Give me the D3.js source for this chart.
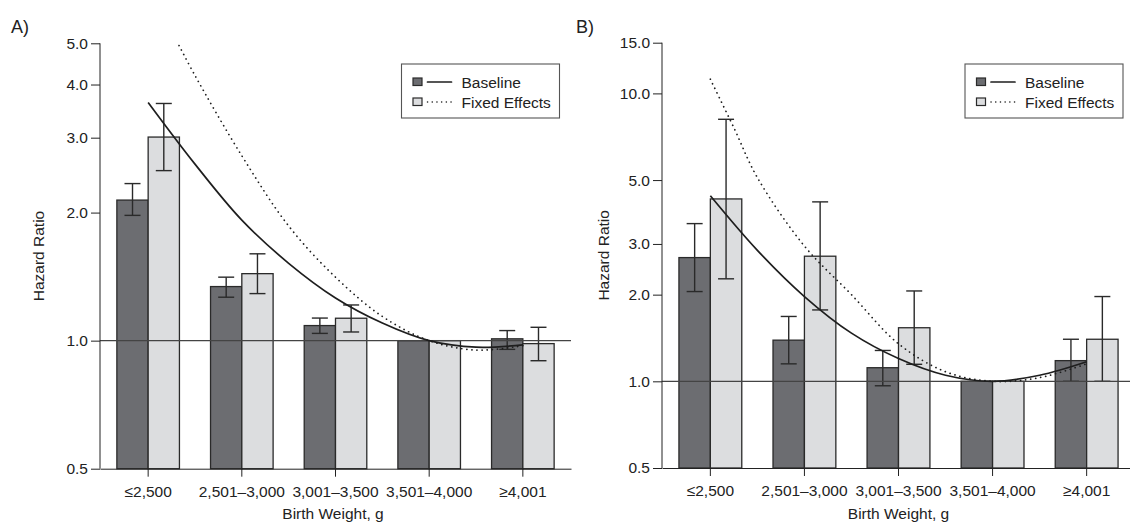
<!DOCTYPE html>
<html>
<head>
<meta charset="utf-8">
<script src="https://cdn.jsdelivr.net/npm/d3@7"></script>
<style>
	body { margin: 0; background: #fff; }
	svg { display: block; font-family: "Liberation Sans", Arial, sans-serif; }
	.axis path, .axis line { stroke: #222; }
	.axis text { fill: #222; font-size: 15.5px; }
</style>
</head>
<body>
<svg id="chart" width="1130" height="523"></svg>
<script>
// categories and series
const categories = ['≤2,500', '2,501–3,000', '3,001–3,500', '3,501–4,000', '≥4,001'];
const seriesNames = ['Baseline', 'Fixed Effects'];

// panel A values (hazard ratios)
const aBaseline = [2.14, 1.34, 1.085, 1.0, 1.01];
const aBaselineLow = [1.97, 1.265, 1.04, null, 0.954];
const aBaselineHigh = [2.34, 1.41, 1.13, null, 1.056];
const aFixed = [3.01, 1.437, 1.129, 1.0, 0.984];
const aFixedLow = [2.51, 1.29, 1.048, null, 0.897];
const aFixedHigh = [3.61, 1.60, 1.213, null, 1.075];
const aTicks = [0.5, 1.0, 2.0, 3.0, 4.0, 5.0];
// fitted curves: [category position, hazard ratio]
const aCurveBaseline = [[0, 3.63], [0.5, 2.6], [1, 1.92], [1.5, 1.52], [2, 1.26], [2.5, 1.1], [3, 1.0], [3.5, 0.965], [4, 0.977]];
const aCurveFixed = [[0.33, 4.94], [0.5, 4.2], [1, 2.72], [1.5, 1.86], [2, 1.41], [2.5, 1.14], [3, 1.0], [3.5, 0.95], [4, 0.973]];

// panel B values
const bBaseline = [2.69, 1.39, 1.115, 1.0, 1.18];
const bBaselineLow = [2.05, 1.15, 0.965, null, 1.0];
const bBaselineHigh = [3.53, 1.68, 1.28, null, 1.40];
const bFixed = [4.30, 2.72, 1.535, 1.0, 1.40];
const bFixedLow = [2.27, 1.77, 1.146, null, 1.0];
const bFixedHigh = [8.13, 4.20, 2.06, null, 1.97];
const bTicks = [0.5, 1.0, 2.0, 3.0, 5.0, 10.0, 15.0];
const bCurveBaseline = [[0, 4.41], [0.5, 2.85], [1, 1.97], [1.5, 1.47], [2, 1.2], [2.5, 1.05], [3, 1.0], [3.5, 1.05], [4, 1.17]];
const bCurveFixed = [[0, 11.2], [0.25, 7.6], [0.5, 5.1], [1, 2.95], [1.5, 2.0], [2, 1.35], [2.5, 1.08], [3, 1.0], [3.5, 1.03], [4, 1.15]];

const colors = { dark: '#6c6d71', light: '#dcdddf', stroke: '#2a2a2a' };

const Panel = {
	draw: function(svg, opt) {
		var g = svg.append('g');

		var x = d3.scaleBand()
			.domain(categories)
			.range([opt.left, opt.right])
			.paddingInner(0.332)
			.paddingOuter(0.18);
		var y = d3.scaleLog()
			.domain(opt.domain)
			.range([opt.bottom, opt.top]);
		var bw = x.bandwidth() / 2;
		var xc = d3.scaleLinear()
			.domain([0, categories.length - 1])
			.range([x(categories[0]) + bw, x(categories[categories.length - 1]) + bw]);

		var rows = categories.map(function(c, i) {
			return { cat: c, i: i, vals: [
				{ s: 0, v: opt.base[i], lo: opt.baseLow[i], hi: opt.baseHigh[i] },
				{ s: 1, v: opt.fixed[i], lo: opt.fixedLow[i], hi: opt.fixedHigh[i] }
			] };
		});

		// bars
		var groups = g.selectAll('g.cat')
			.data(rows)
			.enter()
			.append('g')
			.attr('class', 'cat');

		groups.selectAll('rect')
			.data(function(d) { return d.vals.map(function(v) { v.cat = d.cat; return v; }); })
			.enter()
			.append('rect')
			.attr('x', function(d) { return x(d.cat) + d.s * bw; })
			.attr('y', function(d) { return y(d.v); })
			.attr('width', bw)
			.attr('height', function(d) { return opt.bottom - y(d.v); })
			.attr('fill', function(d) { return d.s == 0 ? colors.dark : colors.light; })
			.attr('stroke', colors.stroke)
			.attr('stroke-width', 1.3);

		// reference line at 1.0
		g.append('line')
			.attr('x1', opt.left).attr('x2', opt.right)
			.attr('y1', y(1)).attr('y2', y(1))
			.attr('stroke', '#444')
			.attr('stroke-width', 1.2);

		// error bars
		var err = groups.selectAll('g.err')
			.data(function(d) { return d.vals.filter(function(v) { return v.lo != null; }); })
			.enter()
			.append('g')
			.attr('class', 'err')
			.attr('stroke', '#2a2a2a')
			.attr('stroke-width', 1.4);
		var cx = function(d) { return x(d.cat) + d.s * bw + bw / 2; };
		err.append('line')
			.attr('x1', cx).attr('x2', cx)
			.attr('y1', function(d) { return y(d.lo); })
			.attr('y2', function(d) { return y(d.hi); });
		err.append('line')
			.attr('x1', function(d) { return cx(d) - 8; }).attr('x2', function(d) { return cx(d) + 8; })
			.attr('y1', function(d) { return y(d.hi); }).attr('y2', function(d) { return y(d.hi); });
		err.append('line')
			.attr('x1', function(d) { return cx(d) - 8; }).attr('x2', function(d) { return cx(d) + 8; })
			.attr('y1', function(d) { return y(d.lo); }).attr('y2', function(d) { return y(d.lo); });

		// fitted curves
		var line = d3.line()
			.x(function(d) { return xc(d[0]); })
			.y(function(d) { return y(d[1]); })
			.curve(d3.curveCatmullRom);
		g.append('path')
			.attr('d', line(opt.curveBase))
			.attr('fill', 'none')
			.attr('stroke', '#1e1e1e')
			.attr('stroke-width', 1.7);
		g.append('path')
			.attr('d', line(opt.curveFixed))
			.attr('fill', 'none')
			.attr('stroke', '#1e1e1e')
			.attr('stroke-width', 1.7)
			.attr('stroke-linecap', 'round')
			.attr('stroke-dasharray', '0.1,5');

		// axes
		g.append('g')
			.attr('class', 'axis')
			.attr('transform', 'translate(' + opt.left + ',0)')
			.call(d3.axisLeft(y).tickValues(opt.ticks).tickFormat(d3.format('.1f'))
				.tickSize(9).tickSizeOuter(0).tickPadding(3))
			.call(function(a) { a.select('.domain').attr('d', 'M0,' + opt.bottom + 'V' + opt.top); });
		g.append('g')
			.attr('class', 'axis')
			.attr('transform', 'translate(0,' + opt.bottom + ')')
			.call(d3.axisBottom(x).tickSize(8).tickSizeOuter(0).tickPadding(9));

		g.append('text')
			.attr('transform', 'translate(' + opt.titleX + ',' + ((opt.top + opt.bottom) / 2) + ') rotate(-90)')
			.attr('text-anchor', 'middle')
			.attr('font-size', 15.5)
			.attr('fill', '#222')
			.text('Hazard Ratio');
		g.append('text')
			.attr('x', (opt.left + opt.xLabelRight) / 2)
			.attr('y', 519)
			.attr('text-anchor', 'middle')
			.attr('font-size', 15.5)
			.attr('fill', '#222')
			.text('Birth Weight, g');
		g.append('text')
			.attr('x', opt.tagX)
			.attr('y', 33)
			.attr('font-size', 18)
			.attr('fill', '#222')
			.text(opt.tag);

		this.drawLegend(g, opt.legendX, 64);
	},

	drawLegend: function(g, lx, ly) {
		var lg = g.append('g').attr('transform', 'translate(' + lx + ',' + ly + ')');
		lg.append('rect')
			.attr('width', 158).attr('height', 54)
			.attr('fill', '#fff')
			.attr('stroke', '#555')
			.attr('stroke-width', 1.1);
		var item = lg.selectAll('g.item')
			.data(seriesNames)
			.enter()
			.append('g')
			.attr('class', 'item')
			.attr('transform', function(d, i) { return 'translate(0,' + (18 + i * 20) + ')'; });
		item.append('rect')
			.attr('x', 11.5).attr('y', -4)
			.attr('width', 9).attr('height', 7.5)
			.attr('fill', function(d, i) { return i == 0 ? colors.dark : colors.light; })
			.attr('stroke', colors.stroke)
			.attr('stroke-width', 1.2);
		item.append('line')
			.attr('x1', 26).attr('x2', 50)
			.attr('stroke', '#1e1e1e')
			.attr('stroke-width', function(d, i) { return i == 0 ? 1.7 : 1.5; })
			.attr('stroke-linecap', 'round')
			.attr('stroke-dasharray', function(d, i) { return i == 0 ? null : '0.1,4.6'; });
		item.append('text')
			.attr('x', 60).attr('y', 5.5)
			.attr('font-size', 15.5)
			.attr('fill', '#222')
			.text(function(d) { return d; });
	}
};

var svg = d3.select('#chart');

Panel.draw(svg, {
	tag: 'A)', tagX: 11,
	left: 100, right: 571, top: 43.3, bottom: 468.7,
	domain: [0.5, 5], ticks: aTicks, titleX: 44, xLabelRight: 566,
	base: aBaseline, baseLow: aBaselineLow, baseHigh: aBaselineHigh,
	fixed: aFixed, fixedLow: aFixedLow, fixedHigh: aFixedHigh,
	curveBase: aCurveBaseline, curveFixed: aCurveFixed,
	legendX: 401.5
});

Panel.draw(svg, {
	tag: 'B)', tagX: 576,
	left: 662, right: 1135, top: 42.7, bottom: 468,
	domain: [0.5, 15], ticks: bTicks, titleX: 609, xLabelRight: 1135,
	base: bBaseline, baseLow: bBaselineLow, baseHigh: bBaselineHigh,
	fixed: bFixed, fixedLow: bFixedLow, fixedHigh: bFixedHigh,
	curveBase: bCurveBaseline, curveFixed: bCurveFixed,
	legendX: 965
});
</script>
</body>
</html>
